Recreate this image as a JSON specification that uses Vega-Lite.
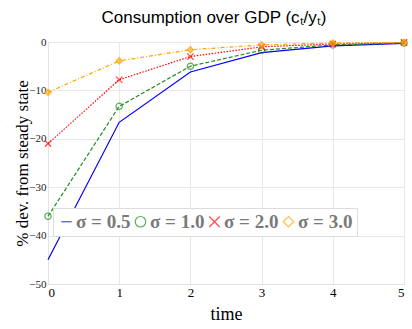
{
  "$schema": "https://vega.github.io/schema/vega-lite/v6.json",
  "autosize": {"type": "none"},
  "width": 356,
  "height": 242,
  "padding": {"left": 48, "top": 42, "right": 8, "bottom": 45},
  "background": "white",
  "title": {
    "text": "Consumption over GDP (cₜ/yₜ)",
    "font": "Liberation Sans",
    "fontSize": 17,
    "fontWeight": "normal",
    "color": "#000000",
    "anchor": "middle",
    "dx": -12,
    "offset": 9
  },
  "data": {
    "values": [
      {"time": 0, "sigma": "σ = 0.5", "dev": -45.0},
      {"time": 1, "sigma": "σ = 0.5", "dev": -16.6},
      {"time": 2, "sigma": "σ = 0.5", "dev": -6.2},
      {"time": 3, "sigma": "σ = 0.5", "dev": -2.2},
      {"time": 4, "sigma": "σ = 0.5", "dev": -0.8},
      {"time": 5, "sigma": "σ = 0.5", "dev": -0.3},
      {"time": 0, "sigma": "σ = 1.0", "dev": -36.0},
      {"time": 1, "sigma": "σ = 1.0", "dev": -13.3},
      {"time": 2, "sigma": "σ = 1.0", "dev": -5.0},
      {"time": 3, "sigma": "σ = 1.0", "dev": -1.7},
      {"time": 4, "sigma": "σ = 1.0", "dev": -0.6},
      {"time": 5, "sigma": "σ = 1.0", "dev": -0.2},
      {"time": 0, "sigma": "σ = 2.0", "dev": -21.0},
      {"time": 1, "sigma": "σ = 2.0", "dev": -7.8},
      {"time": 2, "sigma": "σ = 2.0", "dev": -3.0},
      {"time": 3, "sigma": "σ = 2.0", "dev": -1.0},
      {"time": 4, "sigma": "σ = 2.0", "dev": -0.4},
      {"time": 5, "sigma": "σ = 2.0", "dev": -0.1},
      {"time": 0, "sigma": "σ = 3.0", "dev": -10.4},
      {"time": 1, "sigma": "σ = 3.0", "dev": -3.9},
      {"time": 2, "sigma": "σ = 3.0", "dev": -1.6},
      {"time": 3, "sigma": "σ = 3.0", "dev": -0.6},
      {"time": 4, "sigma": "σ = 3.0", "dev": -0.2},
      {"time": 5, "sigma": "σ = 3.0", "dev": -0.1}
    ]
  },
  "encoding": {
    "x": {
      "field": "time",
      "type": "quantitative",
      "scale": {"domain": [0, 5], "nice": false},
      "axis": {
        "title": "time",
        "values": [0, 1, 2, 3, 4, 5],
        "titleFont": "Liberation Serif",
        "titleFontSize": 18,
        "titleFontWeight": "normal",
        "titleColor": "#000000",
        "titlePadding": 6,
        "labelFont": "Liberation Serif",
        "labelFontSize": 13,
        "labelColor": "#000000",
        "labelPadding": 2,
        "ticks": false,
        "domainColor": "#e3e3e3",
        "gridColor": "#e8e8e8"
      }
    },
    "y": {
      "field": "dev",
      "type": "quantitative",
      "scale": {"domain": [-50, 0], "nice": false},
      "axis": {
        "title": "% dev. from steady state",
        "values": [0, -10, -20, -30, -40, -50],
        "titleFont": "Liberation Serif",
        "titleFontSize": 17,
        "titleFontWeight": "normal",
        "titleColor": "#000000",
        "titleX": -17,
        "titleY": 121,
        "labelFont": "Liberation Serif",
        "labelFontSize": 11,
        "labelColor": "#222222",
        "labelPadding": 2,
        "ticks": false,
        "domainColor": "#e3e3e3",
        "gridColor": "#e8e8e8"
      }
    },
    "color": {
      "field": "sigma",
      "type": "nominal",
      "scale": {
        "domain": ["σ = 0.5", "σ = 1.0", "σ = 2.0", "σ = 3.0"],
        "range": ["#0000ff", "#1e8c1e", "#ff0000", "#ffa500"]
      },
      "legend": {
        "title": null,
        "orient": "none",
        "legendX": 5,
        "legendY": 166,
        "direction": "horizontal",
        "columns": 4,
        "columnPadding": 0,
        "fillColor": "#ffffff",
        "strokeColor": "#dddddd",
        "padding": 4,
        "labelFont": "Liberation Serif",
        "labelFontSize": 19,
        "labelFontWeight": "bold",
        "labelColor": "#7a7a7a",
        "labelOffset": 0,
        "symbolSize": 110,
        "symbolStrokeWidth": 1.2
      }
    }
  },
  "layer": [
    {
      "transform": [{"filter": "datum.sigma === 'σ = 0.5'"}],
      "mark": {"type": "line", "strokeWidth": 1.2}
    },
    {
      "transform": [{"filter": "datum.sigma === 'σ = 1.0'"}],
      "mark": {"type": "line", "strokeWidth": 1.2, "strokeDash": [4, 2]}
    },
    {
      "transform": [{"filter": "datum.sigma === 'σ = 2.0'"}],
      "mark": {"type": "line", "strokeWidth": 1.2, "strokeDash": [1.5, 1.5]}
    },
    {
      "transform": [{"filter": "datum.sigma === 'σ = 3.0'"}],
      "mark": {"type": "line", "strokeWidth": 1.2, "strokeDash": [4, 2, 1, 2]}
    },
    {
      "transform": [{"filter": "datum.sigma !== 'σ = 0.5'"}],
      "mark": {"type": "point", "size": 40, "strokeWidth": 1.3, "filled": false},
      "encoding": {
        "shape": {
          "field": "sigma",
          "type": "nominal",
          "scale": {
            "domain": ["σ = 0.5", "σ = 1.0", "σ = 2.0", "σ = 3.0"],
            "range": ["stroke", "circle", "M-1,-1L1,1M-1,1L1,-1", "diamond"]
          }
        }
      }
    },
    {
      "transform": [{"filter": "datum.sigma === 'σ = 3.0'"}],
      "mark": {"type": "point", "shape": "diamond", "size": 40, "filled": true, "fill": "#ffa500", "fillOpacity": 0.55, "strokeWidth": 0},
      "encoding": {
        "color": {"value": "#ffa500"}
      }
    }
  ]
}
